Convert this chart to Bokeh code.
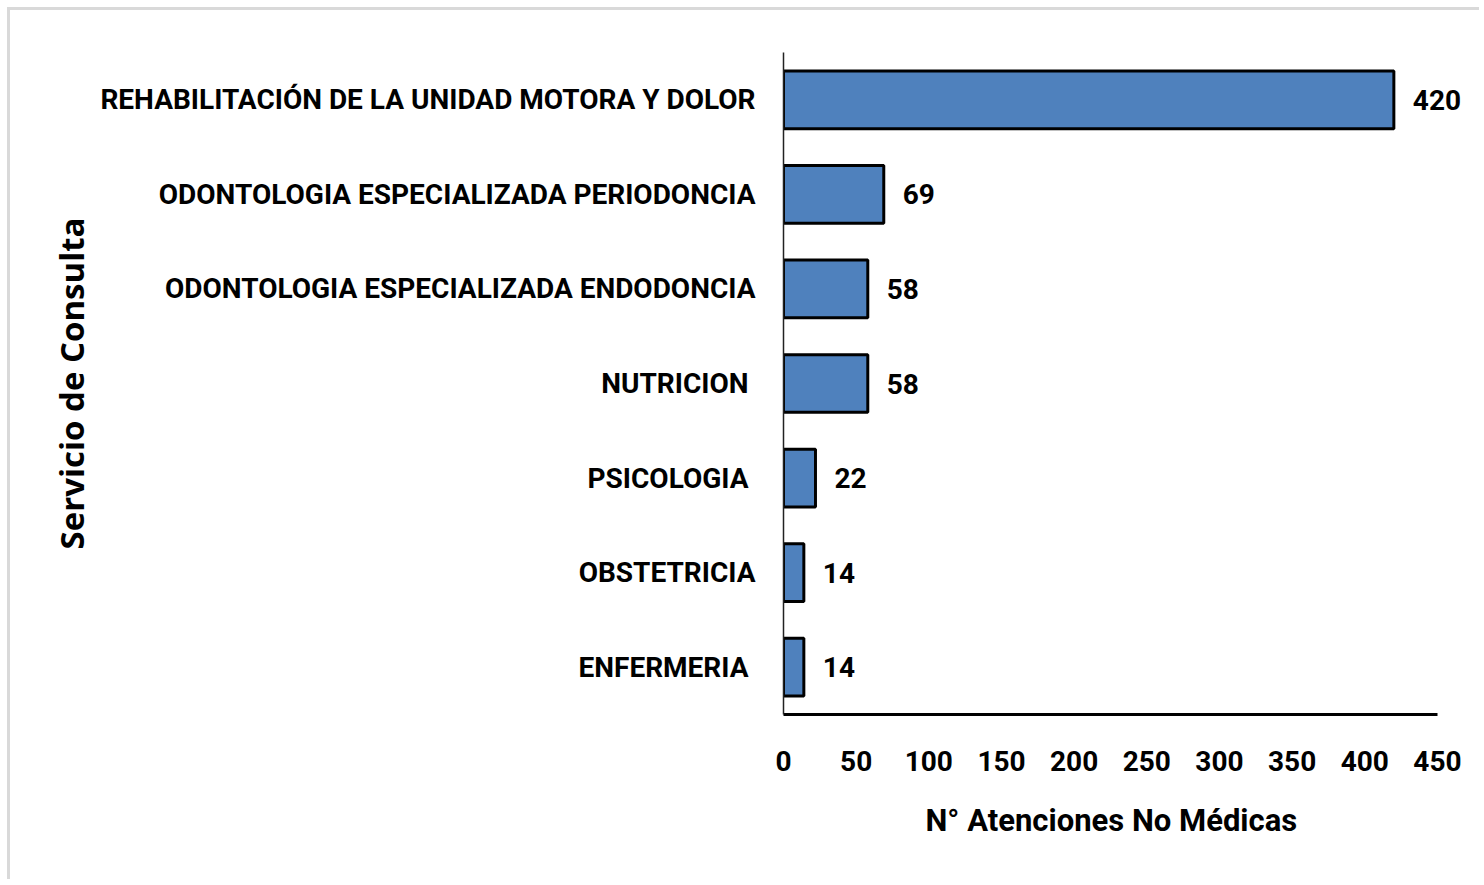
from bokeh.plotting import figure
from bokeh.models import ColumnDataSource, FactorRange, Range1d, FixedTicker, LabelSet, Title
from bokeh.core.properties import value
from bokeh.embed import file_html
from bokeh.resources import INLINE

# ---- data (bottom to top) ----
categories = [
    "ENFERMERIA ",
    "OBSTETRICIA",
    "PSICOLOGIA ",
    "NUTRICION ",
    "ODONTOLOGIA ESPECIALIZADA ENDODONCIA",
    "ODONTOLOGIA ESPECIALIZADA PERIODONCIA",
    "REHABILITACIÓN DE LA UNIDAD MOTORA Y DOLOR",
]
values = [14, 14, 22, 58, 58, 69, 420]
x_ticks = [0, 50, 100, 150, 200, 250, 300, 350, 400, 450]
x_title = "N° Atenciones No Médicas"
y_title = "Servicio de Consulta"

FONT = "Roboto"
FS = "28px"

source = ColumnDataSource(dict(cat=categories, val=values, lab=[str(v) for v in values]))

W, H = 1472, 872
ML, MT, FW, FH = 773, 42, 699, 662
X_END = 481
p = figure(
    width=W, height=H,
    y_range=FactorRange(factors=categories, range_padding=0),
    x_range=Range1d(0, X_END),
    output_backend="svg", toolbar_location=None,
    min_border_left=ML, min_border_right=W - ML - FW,
    min_border_top=MT, min_border_bottom=H - MT - FH,
)
p.styles = {"margin-top": "7px", "margin-left": "7px",
            "border-top": "3px solid #d9d9d9", "border-left": "3px solid #d9d9d9"}
p.outline_line_color = None
p.xgrid.grid_line_color = None
p.ygrid.grid_line_color = None

p.hbar(y="cat", right="val", left=0, height=0.61, source=source,
       fill_color="#4F81BD", line_color="black", line_width=3)

labels = LabelSet(x="val", y="cat", text="lab", source=source, x_offset=19,
                  text_baseline="middle", text_align="left",
                  text_font=value(FONT), text_font_style="bold", text_font_size=FS,
                  text_color="black")
p.add_layout(labels)

# x axis
xa = p.xaxis[0]
xa.ticker = FixedTicker(ticks=x_ticks)
xa.bounds = (0, 450)
xa.major_tick_line_color = None
xa.minor_tick_line_color = None
xa.axis_line_color = "black"
xa.axis_line_width = 3
xa.major_label_text_font = FONT
xa.major_label_text_font_style = "bold"
xa.major_label_text_font_size = FS
xa.major_label_text_color = "black"
xa.major_label_standoff = 30

# x title placed under the 0..450 span of the axis
xt = Title(text=x_title, align="left", offset=142,
           text_font=FONT, text_font_style="bold", text_font_size="31px",
           text_color="black", standoff=52)
p.add_layout(xt, "below")

# y axis
ya = p.yaxis[0]
ya.major_tick_line_color = None
ya.minor_tick_line_color = None
ya.axis_line_color = "#222222"
ya.axis_line_width = 1.5
ya.major_label_text_font = FONT
ya.major_label_text_font_style = "bold"
ya.major_label_text_font_size = FS
ya.major_label_text_color = "black"
ya.major_label_standoff = 22
ya.axis_label = y_title
ya.axis_label_text_font = "Open Sans"
ya.axis_label_text_font_style = "bold"
ya.axis_label_text_font_size = "33px"
ya.axis_label_text_color = "black"
ya.axis_label_standoff = 3

open("out.html", "w").write(file_html(p, INLINE))
